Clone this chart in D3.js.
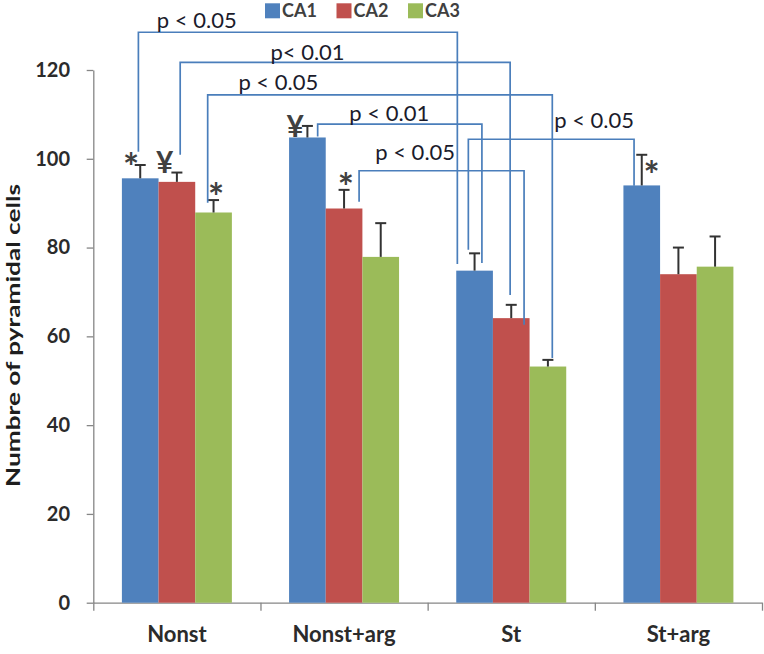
<!DOCTYPE html>
<html>
<head>
<meta charset="utf-8">
<script src="https://cdn.jsdelivr.net/npm/d3@7"></script>
<style>
  html, body { margin: 0; padding: 0; background: #fff; }
  svg { display: block; }
</style>
</head>
<body>
<svg id="chart" width="764" height="654"></svg>
<script>
// ---------- data ----------
const categories = ["Nonst", "Nonst+arg", "St", "St+arg"];
const seriesNames = ["CA1", "CA2", "CA3"];
const ca1 = [95.6, 104.8, 74.8, 94.0];
const ca2 = [94.8, 88.8, 64.1, 74.0];
const ca3 = [87.9, 77.9, 53.2, 75.7];
const ca1Err = [3.0, 2.6, 3.9, 6.9];
const ca2Err = [2.1, 4.2, 3.0, 6.0];
const ca3Err = [2.8, 7.6, 1.5, 6.8];
const yTicks = [0, 20, 40, 60, 80, 100, 120];
const yTitle = "Numbre of pyramidal cells";

// significance brackets: [category index, series index] pairs
const bracketFrom = [[0, 0], [0, 1], [0, 2], [1, 0], [1, 1], [2, 0]];
const bracketTo   = [[2, 0], [2, 1], [2, 2], [2, 0], [2, 1], [3, 0]];
const bracketText = ["p < 0.05", "p< 0.01", "p < 0.05", "p < 0.01", "p < 0.05", "p < 0.05"];
// bracket levels in data units (top line, left end, right end, label baseline)
const bracketLevel = [128.5, 121.7, 114.4, 107.8, 97.3, 104.4];
const bracketFromEnd = [101.6, 100.9, 90.1, 105.0, 90.3, 79.5];
const bracketToEnd = [76.3, 69.3, 55.1, 76.5, 62.6, 93.9];
const bracketLabelY = [129.4, 122.2, 115.5, 108.4, 99.7, 106.9];

// markers above bars
const markerCat = [0, 0, 0, 1, 1, 3];
const markerSer = [0, 1, 2, 0, 1, 0];
const markerSym = ["*", "¥", "*", "¥", "*", "*"];
const markerY = [96.4, 96.8, 89.7, 104.9, 91.9, 94.6];

// ---------- layout (offsets, not data) ----------
const bracketFromDx = [-0.05, 0.09, -0.16, 0.28, 0.41, -0.17];
const bracketToDx = [-0.47, -0.03, 0.12, 0.20, 0.35, -0.21];
const bracketLabelPos = [0.183, 0.386, 0.205, 0.436, 0.34, 0.759];
const markerDx = [-0.25, -0.33, 0.07, -0.33, 0.05, 0.27];

const colors = ["#4f81bd", "#c0504d", "#9bbb59"];
const FONT = "Lato, 'Open Sans', sans-serif";

const values = [ca1, ca2, ca3];
const errs = [ca1Err, ca2Err, ca3Err];

const svg = d3.select("#chart");
const plotL = 93.3, plotR = 762, plotT = 70, plotB = 602.7;

const x0 = d3.scaleBand().domain(categories).range([plotL, plotR]).paddingInner(0).paddingOuter(0);
const x1 = d3.scaleBand().domain(seriesNames).range([0, x0.bandwidth()]).paddingInner(0).paddingOuter(0.78);
const y = d3.scaleLinear().domain([0, 120]).range([plotB, plotT]);

const barCx = (c, s) => x0(categories[c]) + x1(seriesNames[s]) + x1.bandwidth() / 2;

// ---------- axes ----------
const axisColor = "#868686";
const yAxis = svg.append("g")
  .attr("transform", `translate(${plotL},0)`)
  .call(d3.axisLeft(y).tickValues(yTicks).tickSize(6.6).tickSizeOuter(0).tickPadding(16.7));
yAxis.select(".domain").attr("stroke", axisColor).attr("stroke-width", 1.3);
yAxis.selectAll(".tick line").attr("stroke", axisColor).attr("stroke-width", 1.3);
yAxis.selectAll(".tick text")
  .attr("font-family", FONT).attr("font-weight", "bold").attr("font-size", 20)
  .attr("fill", "#2b2b2b");

// boundary ticks on x axis
const xb = d3.scaleLinear().domain([0, categories.length]).range([plotL, plotR]);
const xAxisB = svg.append("g")
  .attr("transform", `translate(0,${plotB})`)
  .call(d3.axisBottom(xb).ticks(categories.length).tickSize(8).tickSizeOuter(0).tickFormat(""));
xAxisB.select(".domain").attr("stroke", axisColor).attr("stroke-width", 1.3);
xAxisB.selectAll(".tick line").attr("stroke", axisColor).attr("stroke-width", 1.3);

// category labels
const xAxisL = svg.append("g")
  .attr("transform", `translate(0,${plotB})`)
  .call(d3.axisBottom(x0).tickSize(0).tickPadding(24));
xAxisL.select(".domain").remove();
xAxisL.selectAll(".tick text")
  .attr("font-family", FONT).attr("font-weight", "bold").attr("font-size", 22)
  .attr("fill", "#2b2b2b");

// y title
svg.append("text")
  .attr("transform", `translate(20,335.5) rotate(-90)`)
  .attr("text-anchor", "middle")
  .attr("font-family", FONT).attr("font-weight", "bold").attr("font-size", 19)
  .attr("textLength", 303).attr("lengthAdjust", "spacingAndGlyphs")
  .attr("fill", "#1e1e1e")
  .text(yTitle);

// ---------- bars ----------
const groups = svg.append("g").selectAll("g")
  .data(categories)
  .join("g")
  .attr("transform", d => `translate(${x0(d)},0)`);

groups.selectAll("rect")
  .data((d, i) => seriesNames.map((s, j) => ({ s, j, v: values[j][i] })))
  .join("rect")
  .attr("x", d => x1(d.s))
  .attr("y", d => y(d.v))
  .attr("width", x1.bandwidth())
  .attr("height", d => y(0) - y(d.v))
  .attr("fill", d => colors[d.j]);

// error bars (upper half)
const capW = 11;
const errData = [];
categories.forEach((c, i) => seriesNames.forEach((s, j) => {
  errData.push({ cx: barCx(i, j), v: values[j][i], e: errs[j][i] });
}));
const eb = svg.append("g").attr("stroke", "#333").attr("stroke-width", 2);
eb.selectAll("line.stem").data(errData).join("line").attr("class", "stem")
  .attr("x1", d => d.cx).attr("x2", d => d.cx)
  .attr("y1", d => y(d.v)).attr("y2", d => y(d.v + d.e));
eb.selectAll("line.cap").data(errData).join("line").attr("class", "cap")
  .attr("x1", d => d.cx - capW / 2).attr("x2", d => d.cx + capW / 2)
  .attr("y1", d => y(d.v + d.e)).attr("y2", d => y(d.v + d.e));

// ---------- brackets ----------
const bw = x1.bandwidth();
const br = svg.append("g");
bracketFrom.forEach((f, k) => {
  const t = bracketTo[k];
  const xa = barCx(f[0], f[1]) + bracketFromDx[k] * bw;
  const xbp = barCx(t[0], t[1]) + bracketToDx[k] * bw;
  br.append("path")
    .attr("d", d3.line()([[xa, y(bracketFromEnd[k])], [xa, y(bracketLevel[k])], [xbp, y(bracketLevel[k])], [xbp, y(bracketToEnd[k])]]))
    .attr("fill", "none").attr("stroke", "#4a7ebb").attr("stroke-width", 1.7);
  br.append("text")
    .attr("x", xa + (xbp - xa) * bracketLabelPos[k])
    .attr("y", y(bracketLabelY[k]))
    .attr("text-anchor", "middle")
    .attr("font-family", FONT).attr("font-size", 22)
    .attr("fill", "#1b1b2b")
    .text(bracketText[k]);
});

// ---------- markers ----------
svg.append("g").selectAll("text")
  .data(markerSym.map((s, k) => ({ s, k })))
  .join("text")
  .attr("x", d => barCx(markerCat[d.k], markerSer[d.k]) + markerDx[d.k] * bw)
  .attr("y", d => y(markerY[d.k]) + (d.s === "*" ? 6 : 0))
  .attr("text-anchor", "middle")
  .attr("font-family", FONT).attr("font-weight", "bold")
  .attr("font-size", d => d.s === "*" ? 38 : 30)
  .attr("fill", "#404040")
  .text(d => d.s);

// ---------- legend ----------
const legend = svg.append("g");
seriesNames.forEach((s, j) => {
  const lx = 265 + j * 71.5;
  legend.append("rect").attr("x", lx).attr("y", 3.3).attr("width", 15).attr("height", 15).attr("fill", colors[j]);
  legend.append("text").attr("x", lx + 17).attr("y", 16.7)
    .attr("font-family", FONT).attr("font-weight", "bold").attr("font-size", 18)
    .attr("fill", "#404040").text(s);
});
</script>
</body>
</html>
